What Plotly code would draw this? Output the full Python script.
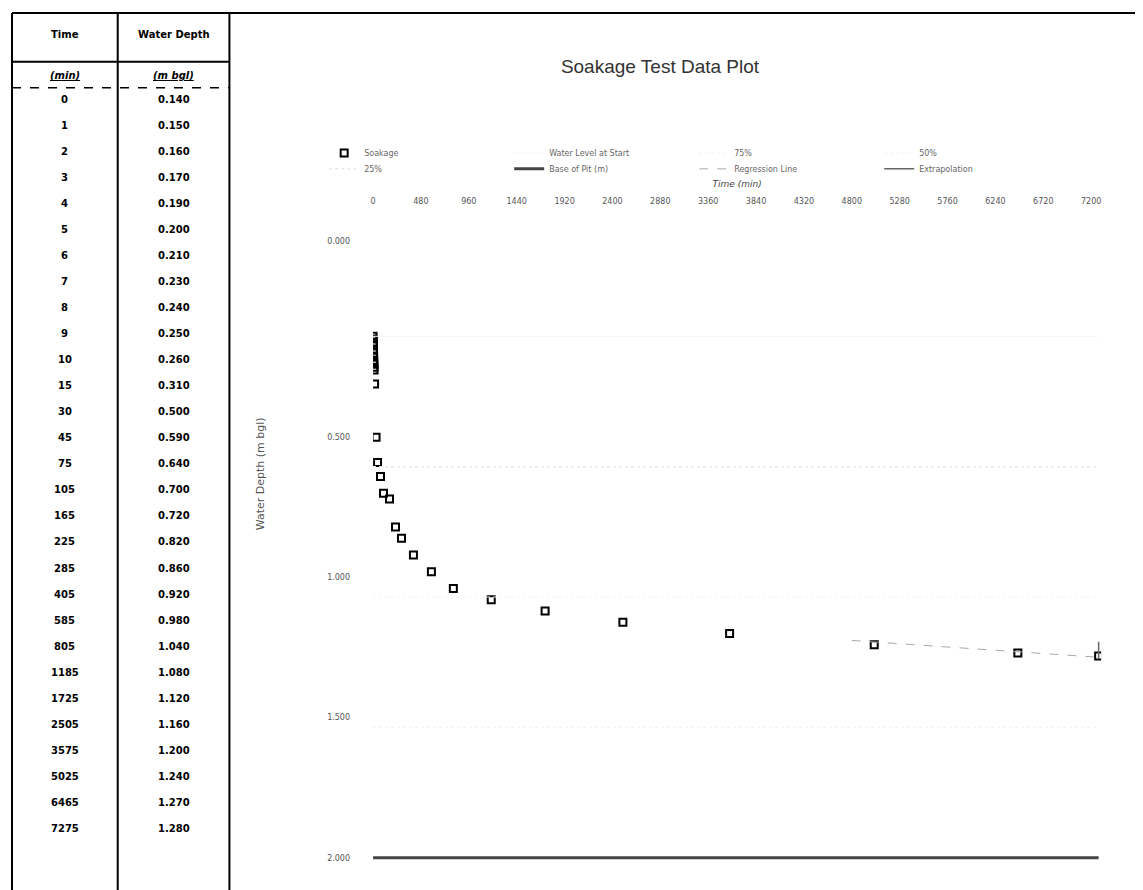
import plotly.graph_objects as go

# soakage test readings (table + scatter)
time_min = [0, 1, 2, 3, 4, 5, 6, 7, 8, 9, 10, 15, 30, 45, 75, 105, 165, 225, 285,
            405, 585, 805, 1185, 1725, 2505, 3575, 5025, 6465, 7275]
depth_m = [0.140, 0.150, 0.160, 0.170, 0.190, 0.200, 0.210, 0.230, 0.240, 0.250,
           0.260, 0.310, 0.500, 0.590, 0.640, 0.700, 0.720, 0.820, 0.860, 0.920,
           0.980, 1.040, 1.080, 1.120, 1.160, 1.200, 1.240, 1.270, 1.280]

# reference levels (m bgl)
start_level = 0.14
pct75_level = 1.535
pct50_level = 1.07
pct25_level = 0.605
pit_base = 2.0
line_span = [0, 7275]

# fit / extrapolation segments
reg_t = [4800, 7275]
reg_d = [1.225, 1.285]
ext_t = [7275, 7275]
ext_d = [1.23, 1.29]

x_ticks = [0, 480, 960, 1440, 1920, 2400, 2880, 3360, 3840, 4320, 4800, 5280,
           5760, 6240, 6720, 7200]
y_ticks = [-0.2, 0.5, 1.0, 1.5, 2.0]
y_ticktext = ["0.000", "0.500", "1.000", "1.500", "2.000"]

W, H = 1143, 890
px = lambda v: v / W
py = lambda v: 1 - v / H

fig = go.Figure()
# legend row 1
fig.add_trace(go.Scatter(x=time_min, y=depth_m, mode="markers", name="Soakage",
                         legend="legend",
                         marker=dict(symbol="square-open", size=7, color="black",
                                     line=dict(width=2, color="black"))))
fig.add_trace(go.Scatter(x=line_span, y=[start_level] * 2, mode="lines",
                         name="Water Level at Start", legend="legend",
                         line=dict(color="#f7f7f7", width=1)))
fig.add_trace(go.Scatter(x=line_span, y=[pct75_level] * 2, mode="lines", name="75%",
                         legend="legend",
                         line=dict(color="#f2f2f2", width=1, dash="dot")))
fig.add_trace(go.Scatter(x=line_span, y=[pct50_level] * 2, mode="lines", name="50%",
                         legend="legend",
                         line=dict(color="#f2f2f2", width=1, dash="dot")))
# legend row 2
fig.add_trace(go.Scatter(x=line_span, y=[pct25_level] * 2, mode="lines", name="25%",
                         legend="legend2",
                         line=dict(color="#e8e8e8", width=1.5, dash="dot")))
fig.add_trace(go.Scatter(x=line_span, y=[pit_base] * 2, mode="lines",
                         name="Base of Pit (m)", legend="legend2",
                         line=dict(color="#444444", width=3)))
fig.add_trace(go.Scatter(x=reg_t, y=reg_d, mode="lines", name="Regression Line",
                         legend="legend2",
                         line=dict(color="#aaaaaa", width=1, dash="dash")))
fig.add_trace(go.Scatter(x=ext_t, y=ext_d, mode="lines", name="Extrapolation",
                         legend="legend2",
                         line=dict(color="#666666", width=1.5)))

leg = dict(orientation="h", x=px(314), xanchor="left", yanchor="top",
           entrywidth=140, entrywidthmode="pixels",
           font=dict(size=8, color="#666"), bgcolor="rgba(0,0,0,0)")

fig.update_layout(
    width=W, height=H,
    margin=dict(l=0, r=0, t=0, b=0),
    paper_bgcolor="white", plot_bgcolor="white",
    font=dict(family="DejaVu Sans", size=9, color="#444"),
    title=dict(text="Soakage Test Data Plot", x=px(652), xanchor="center",
               y=py(58), yanchor="middle",
               font=dict(family="Liberation Sans", size=19, color="#333")),
    showlegend=True,
    legend=dict(leg, y=py(127)),
    legend2=dict(leg, y=py(143)),
    xaxis=dict(domain=[px(363), px(1093)], range=[0, 7300], side="top",
               tickvals=x_ticks, showgrid=False, zeroline=False, showline=False,
               ticks="", ticklabelstandoff=34,
               tickfont=dict(size=8, color="#555"),
               title=dict(text="<i>Time (min)</i>", standoff=8,
                          font=dict(size=9, color="#444"))),
    yaxis=dict(domain=[py(858), py(230)], range=[2.03, -0.2],
               tickvals=y_ticks, ticktext=y_ticktext, showgrid=False,
               zeroline=False, showline=False, ticks="", ticklabelstandoff=22,
               tickfont=dict(size=8, color="#555")),
)

# ---- left-hand data table drawn with shapes + annotations ----
col_l, col_m, col_r = 1, 107, 219
line = dict(color="black", width=2)
shapes = [
    dict(type="line", xref="paper", yref="paper", x0=px(col_l), x1=1, y0=py(1), y1=py(1), line=line),
    dict(type="line", xref="paper", yref="paper", x0=px(col_l), x1=px(col_l), y0=py(1), y1=0, line=line),
    dict(type="line", xref="paper", yref="paper", x0=px(col_m), x1=px(col_m), y0=py(1), y1=0, line=line),
    dict(type="line", xref="paper", yref="paper", x0=px(col_r), x1=px(col_r), y0=py(1), y1=0, line=line),
    dict(type="line", xref="paper", yref="paper", x0=px(col_l), x1=px(col_r), y0=py(50), y1=py(50), line=line),
    dict(type="line", xref="paper", yref="paper", x0=px(col_l), x1=px(col_r), y0=py(76), y1=py(76),
         line=dict(color="black", width=1.5, dash="dash")),
]
fig.update_layout(shapes=shapes)

ann = []
tfont = dict(family="DejaVu Sans", size=10, color="black")
ann.append(dict(text="<b>Time</b>", x=px((col_l + col_m) / 2), y=py(23)))
ann.append(dict(text="<b>Water Depth</b>", x=px((col_m + col_r) / 2), y=py(23)))
ann.append(dict(text="<b><i><u>(min)</u></i></b>", x=px((col_l + col_m) / 2), y=py(64)))
ann.append(dict(text="<b><i><u>(m bgl)</u></i></b>", x=px((col_m + col_r) / 2), y=py(64)))
row0, row_h = 88, 26.14
for i, (t, d) in enumerate(zip(time_min, depth_m)):
    yy = py(row0 + i * row_h)
    ann.append(dict(text=f"<b>{t}</b>", x=px((col_l + col_m) / 2), y=yy))
    ann.append(dict(text=f"<b>{d:.3f}</b>", x=px((col_m + col_r) / 2), y=yy))
for a in ann:
    a.update(xref="paper", yref="paper", showarrow=False, xanchor="center",
             yanchor="middle", font=tfont)
# y axis title placed beside the upper part of the axis
ann.append(dict(text="Water Depth (m bgl)", xref="paper", yref="paper",
                x=px(251), y=py(464), textangle=-90, showarrow=False,
                xanchor="center", yanchor="middle",
                font=dict(family="DejaVu Sans", size=11, color="#555")))
fig.update_layout(annotations=ann)

fig.write_html("out.html")
